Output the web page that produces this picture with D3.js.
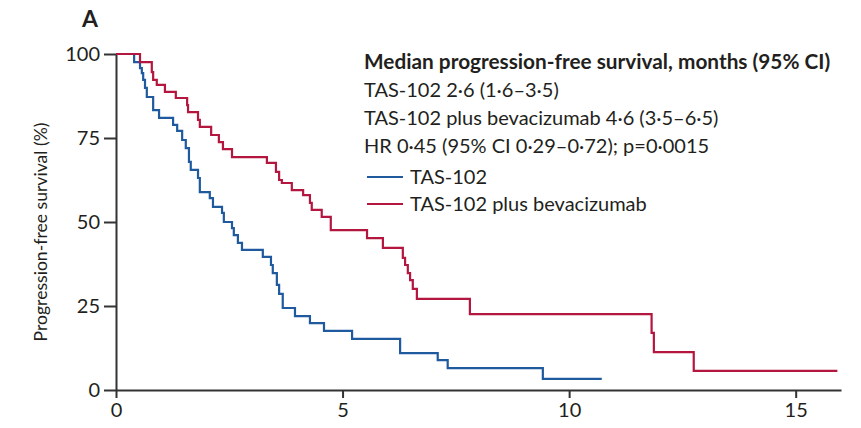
<!DOCTYPE html>
<html><head><meta charset="utf-8">
<script src="https://cdn.jsdelivr.net/npm/d3@7"></script>
<style>
html,body{margin:0;padding:0;background:#fff;}
svg text{font-family:Lato,"Open Sans",sans-serif;fill:#231f20;}
</style></head>
<body>
<svg id="chart" width="861" height="428"></svg>
<script>
// Kaplan–Meier step data (time in months, survival %)
const tasTimes = [0,0.40,0.53,0.57,0.60,0.64,0.68,0.82,0.95,1.26,1.35,1.46,1.54,1.61,1.65,1.81,1.85,2.07,2.14,2.34,2.38,2.56,2.60,2.69,2.78,3.24,3.42,3.46,3.55,3.60,3.68,3.95,4.28,4.59,5.21,6.27,7.10,7.32,9.42,10.72];
const tasSurv  = [100,97.6,95.8,94.3,92.3,89.9,87.2,83.3,81.0,78.9,77.1,74.4,72.0,67.9,65.5,63.1,58.9,57.1,54.5,52.7,50.0,48.2,46.1,43.8,41.7,39.6,37.2,34.8,31.3,28.6,24.4,22.0,19.9,17.6,15.2,11.0,8.9,6.5,3.3,3.3];
const bevTimes = [0,0.53,0.79,0.82,0.90,1.08,1.32,1.57,1.59,1.81,1.85,2.10,2.27,2.36,2.56,3.33,3.53,3.60,3.66,3.88,4.13,4.28,4.32,4.54,4.74,5.54,5.89,6.33,6.38,6.44,6.49,6.55,6.64,7.81,11.82,11.87,12.75,15.92];
const bevSurv  = [100,97.6,94.6,92.3,90.8,88.7,86.9,84.8,82.7,80.4,78.3,75.9,73.8,71.7,69.3,67.6,64.9,62.5,61.6,59.5,58.0,55.7,53.6,51.5,47.6,45.2,42.3,39.3,37.2,34.8,32.7,30.1,27.1,22.6,17.0,11.3,5.7,5.7];
const xTicks = [0,5,10,15];
const yTicks = [0,25,50,75,100];
const seriesNames = ["TAS-102","TAS-102 plus bevacizumab"];
const seriesColors = ["#1f5a9e","#b3163f"];
const annotLines = ["TAS-102 2·6 (1·6–3·5)","TAS-102 plus bevacizumab 4·6 (3·5–6·5)","HR 0·45 (95% CI 0·29–0·72); p=0·0015"];
const annotTitle = "Median progression-free survival, months (95% CI)";

const svg = d3.select("#chart");
const x = d3.scaleLinear().domain([0,16]).range([116, 841]);
const y = d3.scaleLinear().domain([0,100]).range([390, 54]);
const axisColor = "#333";

// axes
const gx = svg.append("g").attr("transform","translate(0,390)")
  .call(d3.axisBottom(x).tickValues(xTicks).tickSize(8).tickPadding(5).tickSizeOuter(0).tickFormat(d3.format("d")));
const gy = svg.append("g").attr("transform","translate(116,0)")
  .call(d3.axisLeft(y).tickValues(yTicks).tickSize(12).tickPadding(4).tickSizeOuter(0).tickFormat(d3.format("d")));
[gx,gy].forEach(g=>{
  g.selectAll("path.domain").attr("stroke",axisColor).attr("stroke-width",2);
  g.selectAll(".tick line").attr("stroke",axisColor).attr("stroke-width",2);
  g.selectAll(".tick text").style("font-size","20px").attr("fill","#231f20").style("font-family","Lato,'Open Sans',sans-serif");
});

// curves
const line = d3.line().x(d=>x(d[0])).y(d=>y(d[1])).curve(d3.curveStepAfter);
const series = [
  d3.zip(tasTimes, tasSurv),
  d3.zip(bevTimes, bevSurv)
];
series.forEach((pts,i)=>{
  svg.append("path").datum(pts).attr("d",line)
    .attr("fill","none").attr("stroke",seriesColors[i]).attr("stroke-width",2.2)
    .attr("stroke-linejoin","miter");
});

// panel label
svg.append("text").attr("x",82).attr("y",27).text("A")
  .style("font-size","23px").style("font-weight","700");

// y-axis title
svg.append("text").attr("transform","translate(47,232) rotate(-90)")
  .attr("text-anchor","middle").text("Progression-free survival (%)")
  .style("font-size","17.6px");

// annotation
svg.append("text").attr("x",364).attr("y",69).text(annotTitle)
  .style("font-size","20.8px").style("font-weight","700");
annotLines.forEach((t,i)=>{
  svg.append("text").attr("x",364).attr("y",97+i*28).text(t).style("font-size","20px");
});

// legend
seriesNames.forEach((n,i)=>{
  const yy = 177 + i*27;
  svg.append("line").attr("x1",367).attr("x2",403).attr("y1",yy).attr("y2",yy)
    .attr("stroke",seriesColors[i]).attr("stroke-width",2);
  svg.append("text").attr("x",410).attr("y",yy+7).text(n).style("font-size","20px");
});
</script>
</body></html>
